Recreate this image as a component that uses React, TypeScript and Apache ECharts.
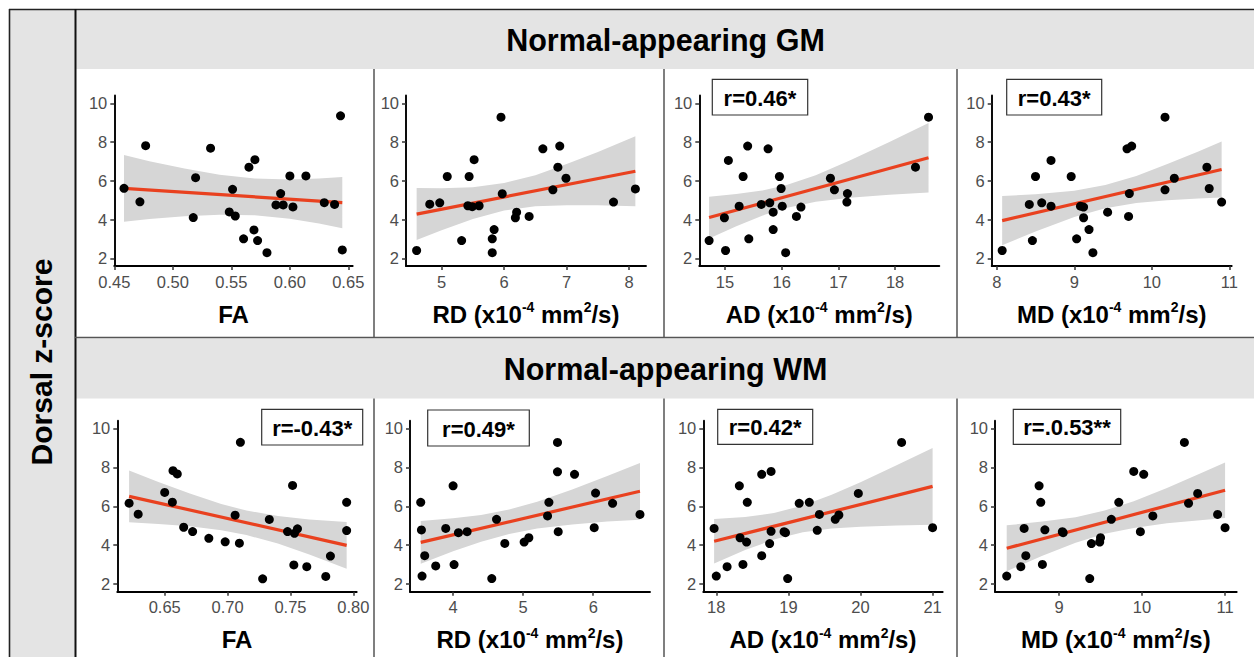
import React, { useEffect, useRef } from "react";
import * as echarts from "echarts";

const FONT = "'Liberation Sans', Arial, Helvetica, sans-serif";

const yTicks = [2, 4, 6, 8, 10];
const yMin = 1.6;
const yMax = 10.4;

const headerTitles = ["Normal-appearing GM", "Normal-appearing WM"];
const yAxisTitle = "Dorsal z-score";

// ---------- GM FA ----------
const gmFaX = [0.4583, 0.4719, 0.4768, 0.5175, 0.5195, 0.5323, 0.5483, 0.5511, 0.5534, 0.5605, 0.5651, 0.5702, 0.5694, 0.5725, 0.5805, 0.5882, 0.5922, 0.5944, 0.6001, 0.6027, 0.6138, 0.6295, 0.6383, 0.6434, 0.6449];
const gmFaY = [5.61, 4.91, 7.81, 4.10, 6.16, 7.68, 4.39, 5.56, 4.18, 3.00, 6.70, 7.09, 3.46, 2.91, 2.29, 4.75, 5.34, 4.75, 6.25, 4.65, 6.25, 4.87, 4.78, 9.35, 2.43];
const gmFaLineX = [0.4583, 0.6449];
const gmFaLineY = [5.61, 4.87];
const gmFaBandX = [0.4583, 0.48, 0.51, 0.54, 0.57, 0.60, 0.625, 0.6449];
const gmFaBandHi = [7.33, 7.01, 6.63, 6.31, 6.12, 6.06, 6.11, 6.19];
const gmFaBandLo = [3.89, 4.03, 4.17, 4.25, 4.22, 4.04, 3.79, 3.55];
const gmFaTicks = [0.45, 0.5, 0.55, 0.6, 0.65];

// ---------- GM RD ----------
const gmRdX = [4.60, 4.81, 4.97, 5.09, 5.32, 5.44, 5.42, 5.49, 5.52, 5.60, 5.81, 5.84, 5.81, 5.95, 5.97, 6.18, 6.20, 6.40, 6.62, 6.78, 6.86, 6.89, 6.99, 7.75, 8.10];
const gmRdY = [2.40, 4.79, 4.86, 6.22, 2.91, 6.22, 4.71, 4.66, 7.09, 4.71, 3.00, 3.48, 2.29, 9.28, 5.33, 4.09, 4.38, 4.16, 7.65, 5.53, 6.70, 7.79, 6.13, 4.90, 5.58];
const gmRdLineX = [4.60, 8.10];
const gmRdLineY = [4.28, 6.49];
const gmRdBandX = [4.60, 5.0, 5.5, 6.0, 6.5, 7.0, 7.5, 8.10];
const gmRdBandHi = [5.62, 5.61, 5.67, 5.88, 6.28, 6.86, 7.49, 8.30];
const gmRdBandLo = [2.94, 3.45, 4.03, 4.46, 4.68, 4.74, 4.73, 4.68];
const gmRdTicks = [5, 6, 7, 8];

// ---------- GM AD ----------
const gmAdX = [14.72, 14.99, 15.01, 15.06, 15.25, 15.32, 15.40, 15.42, 15.64, 15.76, 15.79, 15.85, 15.85, 15.96, 15.99, 16.01, 16.07, 16.26, 16.34, 16.86, 16.93, 17.16, 17.15, 18.36, 18.59];
const gmAdY = [2.91, 4.09, 2.40, 7.05, 4.69, 6.22, 7.79, 3.00, 4.78, 7.65, 4.86, 4.38, 3.48, 6.22, 5.60, 4.69, 2.29, 4.16, 4.64, 6.13, 5.53, 5.34, 4.90, 6.70, 9.28];
const gmAdLineX = [14.72, 18.59];
const gmAdLineY = [4.10, 7.19];
const gmAdBandX = [14.72, 15.2, 15.7, 16.1, 16.6, 17.2, 17.9, 18.59];
const gmAdBandHi = [5.18, 5.31, 5.52, 5.79, 6.29, 7.04, 8.00, 8.98];
const gmAdBandLo = [3.02, 3.65, 4.24, 4.61, 4.91, 5.12, 5.28, 5.40];
const gmAdTicks = [15, 16, 17, 18];

// ---------- GM MD ----------
const gmMdX = [8.07, 8.42, 8.46, 8.50, 8.58, 8.70, 8.70, 8.96, 9.03, 9.08, 9.12, 9.12, 9.19, 9.24, 9.43, 9.68, 9.74, 9.71, 9.70, 10.17, 10.17, 10.29, 10.71, 10.74, 10.90];
const gmMdY = [2.40, 4.78, 2.91, 6.22, 4.86, 7.05, 4.69, 6.22, 3.00, 4.69, 4.64, 4.09, 3.48, 2.29, 4.38, 7.65, 7.79, 5.34, 4.16, 9.28, 5.53, 6.13, 6.70, 5.60, 4.90];
const gmMdLineX = [8.07, 10.90];
const gmMdLineY = [3.94, 6.58];
const gmMdBandX = [8.07, 8.5, 9.0, 9.4, 9.8, 10.2, 10.6, 10.90];
const gmMdBandHi = [5.21, 5.30, 5.49, 5.78, 6.25, 6.86, 7.51, 8.02];
const gmMdBandLo = [2.67, 3.38, 4.13, 4.58, 4.85, 5.00, 5.09, 5.14];
const gmMdTicks = [8, 9, 10, 11];

// ---------- WM FA ----------
const wmFaX = [0.6217, 0.6289, 0.65, 0.6561, 0.6566, 0.660, 0.6651, 0.6722, 0.6851, 0.6981, 0.7060, 0.7094, 0.7102, 0.7279, 0.7332, 0.7477, 0.7517, 0.7532, 0.7556, 0.7527, 0.7630, 0.7781, 0.7818, 0.7947, 0.7947];
const wmFaY = [6.16, 5.59, 6.71, 6.21, 7.83, 7.66, 4.92, 4.70, 4.35, 4.17, 5.54, 4.10, 9.29, 2.27, 5.32, 4.70, 7.07, 4.61, 4.84, 2.98, 2.89, 2.39, 3.44, 6.20, 4.75];
const wmFaLineX = [0.6217, 0.7947];
const wmFaLineY = [6.51, 3.99];
const wmFaBandX = [0.6217, 0.645, 0.67, 0.695, 0.715, 0.74, 0.765, 0.7947];
const wmFaBandHi = [7.84, 7.25, 6.65, 6.11, 5.78, 5.50, 5.32, 5.19];
const wmFaBandLo = [5.18, 5.09, 4.97, 4.77, 4.52, 4.08, 3.52, 2.79];
const wmFaTicks = [0.65, 0.7, 0.75, 0.8];

// ---------- WM RD ----------
const wmRdX = [3.538, 3.548, 3.595, 3.557, 3.752, 3.895, 4.0, 4.014, 4.076, 4.20, 4.62, 4.552, 4.738, 5.014, 5.081, 5.348, 5.367, 5.49, 5.49, 5.50, 5.733, 6.033, 6.014, 6.276, 6.667];
const wmRdY = [6.20, 4.78, 3.46, 2.41, 2.93, 4.86, 7.05, 3.00, 4.64, 4.69, 5.33, 2.28, 4.09, 4.16, 4.38, 5.50, 6.20, 9.28, 7.77, 4.69, 7.64, 6.68, 4.90, 6.15, 5.58];
const wmRdLineX = [3.538, 6.667];
const wmRdLineY = [4.14, 6.77];
const wmRdBandX = [3.538, 4.0, 4.4, 4.8, 5.2, 5.7, 6.2, 6.667];
const wmRdBandHi = [5.24, 5.38, 5.55, 5.83, 6.23, 6.86, 7.55, 8.23];
const wmRdBandLo = [3.04, 3.68, 4.17, 4.57, 4.85, 5.06, 5.21, 5.31];
const wmRdTicks = [4, 5, 6];

// ---------- WM AD ----------
const wmAdX = [17.97, 18.0, 18.15, 18.32, 18.33, 18.37, 18.43, 18.42, 18.63, 18.63, 18.76, 18.76, 18.74, 18.94, 18.96, 18.99, 19.15, 19.29, 19.43, 19.40, 19.65, 19.70, 19.97, 20.57, 21.0];
const wmAdY = [4.86, 2.41, 2.89, 7.05, 4.38, 3.01, 6.20, 4.16, 7.64, 3.46, 7.79, 4.71, 4.08, 4.69, 4.64, 2.28, 6.15, 6.20, 5.58, 4.76, 5.33, 5.55, 6.66, 9.28, 4.90];
const wmAdLineX = [17.97, 21.0];
const wmAdLineY = [4.20, 7.02];
const wmAdBandX = [17.97, 18.4, 18.8, 19.2, 19.6, 20.0, 20.5, 21.0];
const wmAdBandHi = [5.34, 5.45, 5.65, 6.04, 6.59, 7.24, 8.11, 8.99];
const wmAdBandLo = [3.06, 3.75, 4.29, 4.66, 4.85, 4.94, 5.01, 5.05];
const wmAdTicks = [18, 19, 20, 21];

// ---------- WM MD ----------
const wmMdX = [8.37, 8.54, 8.58, 8.60, 8.76, 8.78, 8.80, 8.83, 9.04, 9.05, 9.37, 9.39, 9.49, 9.50, 9.63, 9.72, 9.90, 9.98, 10.02, 10.13, 10.51, 10.56, 10.67, 10.91, 11.0];
const wmMdY = [2.41, 2.89, 4.86, 3.46, 7.05, 6.20, 3.01, 4.79, 4.69, 4.64, 2.28, 4.08, 4.16, 4.38, 5.33, 6.20, 7.79, 4.69, 7.64, 5.50, 9.28, 6.15, 6.66, 5.58, 4.90];
const wmMdLineX = [8.37, 11.0];
const wmMdLineY = [3.84, 6.82];
const wmMdBandX = [8.37, 8.8, 9.2, 9.55, 9.9, 10.3, 10.7, 11.0];
const wmMdBandHi = [5.02, 5.21, 5.44, 5.78, 6.26, 6.94, 7.68, 8.25];
const wmMdBandLo = [2.66, 3.45, 4.12, 4.58, 4.88, 5.12, 5.28, 5.39];
const wmMdTicks = [9, 10, 11];

const xTitles = ["FA", "RD", "AD", "MD", "FA", "RD", "AD", "MD"];
const rLabels = ["", "", "r=0.46*", "r=0.43*", "r=-0.43*", "r=0.49*", "r=0.42*", "r=.0.53**"];
const xMins = [0.45, 4.43, 14.547, 7.935, 0.6123, 3.385, 17.82, 8.229];
const xMaxs = [0.6538, 8.27, 18.78, 11.03, 0.8027, 6.81, 21.14, 11.14];

const panelsData = [
  { x: gmFaX, y: gmFaY, lx: gmFaLineX, ly: gmFaLineY, bx: gmFaBandX, bh: gmFaBandHi, bl: gmFaBandLo, ticks: gmFaTicks, dec: 2 },
  { x: gmRdX, y: gmRdY, lx: gmRdLineX, ly: gmRdLineY, bx: gmRdBandX, bh: gmRdBandHi, bl: gmRdBandLo, ticks: gmRdTicks, dec: 0 },
  { x: gmAdX, y: gmAdY, lx: gmAdLineX, ly: gmAdLineY, bx: gmAdBandX, bh: gmAdBandHi, bl: gmAdBandLo, ticks: gmAdTicks, dec: 0 },
  { x: gmMdX, y: gmMdY, lx: gmMdLineX, ly: gmMdLineY, bx: gmMdBandX, bh: gmMdBandHi, bl: gmMdBandLo, ticks: gmMdTicks, dec: 0 },
  { x: wmFaX, y: wmFaY, lx: wmFaLineX, ly: wmFaLineY, bx: wmFaBandX, bh: wmFaBandHi, bl: wmFaBandLo, ticks: wmFaTicks, dec: 2 },
  { x: wmRdX, y: wmRdY, lx: wmRdLineX, ly: wmRdLineY, bx: wmRdBandX, bh: wmRdBandHi, bl: wmRdBandLo, ticks: wmRdTicks, dec: 0 },
  { x: wmAdX, y: wmAdY, lx: wmAdLineX, ly: wmAdLineY, bx: wmAdBandX, bh: wmAdBandHi, bl: wmAdBandLo, ticks: wmAdTicks, dec: 0 },
  { x: wmMdX, y: wmMdY, lx: wmMdLineX, ly: wmMdLineY, bx: wmMdBandX, bh: wmMdBandHi, bl: wmMdBandLo, ticks: wmMdTicks, dec: 0 },
];

// ---------- layout (pixels) ----------
const W = 1254;
const H = 657;
const gridLefts = [114.3, 406, 699.3, 991.7, 117.3, 410, 703.3, 995];
const gridRights = [352.7, 646, 939.3, 1231.7, 356.7, 650, 942.7, 1236.7];
const rowTops = [95.5, 420.7];
const rowBottoms = [266, 591.8];
const rBoxes = [
  null,
  null,
  [712.3, 79.3, 95.4, 35.7],
  [1006.7, 79.3, 95, 35.7],
  [261.7, 409.3, 101, 35.7],
  [427.7, 410, 101.6, 36],
  [717.7, 409.3, 95, 35],
  [1013.3, 409.3, 107.4, 35],
];

const RED = "#e9411f";
const BAND = "#d6d6d6";
const STRIP = "#e4e4e4";
const SEP = "#555555";

function xName(title: string) {
  if (title === "FA") return "{t|FA}";
  return "{t|" + title + " (x10}{s|-4}{t| mm}{s|2}{t|/s)}";
}

export default function App() {
  const ref = useRef<HTMLDivElement>(null);

  useEffect(() => {
    document.body.style.margin = "0";
    if (!ref.current) return;
    const chart = echarts.init(ref.current, undefined, { renderer: "svg" });

    const grids: any[] = [];
    const xAxes: any[] = [];
    const yAxes: any[] = [];
    const series: any[] = [];

    panelsData.forEach((p, i) => {
      const row = i < 4 ? 0 : 1;
      grids.push({
        left: gridLefts[i],
        top: rowTops[row],
        width: gridRights[i] - gridLefts[i],
        height: rowBottoms[row] - rowTops[row],
        containLabel: false,
        outerBoundsMode: "none",
      });
      xAxes.push({
        type: "value",
        gridIndex: i,
        min: xMins[i],
        max: xMaxs[i],
        splitLine: { show: false },
        axisLine: { show: true, onZero: false, lineStyle: { color: "#000", width: 1.9 } },
        axisTick: { show: true, length: 4, customValues: p.ticks, lineStyle: { color: "#333", width: 1.5 } },
        axisLabel: {
          customValues: p.ticks,
          color: "#4d4d4d",
          fontSize: 16.5,
          fontFamily: FONT,
          margin: 7,
          formatter: (v: number) => v.toFixed(p.dec),
        },
        name: xName(xTitles[i]),
        nameLocation: "middle",
        nameGap: 34,
        nameTextStyle: {
          rich: {
            t: { fontSize: 24, fontWeight: "bold", color: "#000", fontFamily: FONT, lineHeight: 28 },
            s: { fontSize: 14, fontWeight: "bold", color: "#000", fontFamily: FONT, verticalAlign: "top", lineHeight: 14 },
          },
        },
      });
      yAxes.push({
        type: "value",
        gridIndex: i,
        min: yMin,
        max: yMax,
        splitLine: { show: false },
        axisLine: { show: true, onZero: false, lineStyle: { color: "#000", width: 1.9 } },
        axisTick: { show: true, length: 4, customValues: yTicks, lineStyle: { color: "#333", width: 1.5 } },
        axisLabel: {
          customValues: yTicks,
          color: "#4d4d4d",
          fontSize: 16.5,
          fontFamily: FONT,
          margin: 7,
        },
      });

      const bandData = p.bx.map((x, j) => [x, p.bl[j], p.bh[j]]);
      series.push({
        type: "custom",
        xAxisIndex: i,
        yAxisIndex: i,
        silent: true,
        z: 1,
        data: bandData,
        encode: { x: 0, y: [1, 2] },
        renderItem: (params: any, api: any) => {
          if (params.dataIndex !== 0) return null;
          const upper = p.bx.map((x, j) => api.coord([x, p.bh[j]]));
          const lower = p.bx.map((x, j) => api.coord([x, p.bl[j]])).reverse();
          return {
            type: "polygon",
            shape: { points: upper.concat(lower) },
            style: { fill: BAND, stroke: "none" },
          };
        },
      });
      series.push({
        type: "line",
        xAxisIndex: i,
        yAxisIndex: i,
        z: 2,
        silent: true,
        symbol: "none",
        data: p.lx.map((x, j) => [x, p.ly[j]]),
        lineStyle: { color: RED, width: 3.2 },
      });
      series.push({
        type: "scatter",
        xAxisIndex: i,
        yAxisIndex: i,
        z: 3,
        symbolSize: 9,
        itemStyle: { color: "#000", opacity: 1 },
        data: p.x.map((x, j) => [x, p.y[j]]),
      });
    });

    const graphic: any[] = [];
    // left strip
    graphic.push({ type: "rect", shape: { x: 9, y: 9, width: 66, height: H }, style: { fill: STRIP }, z: 0 });
    // header bands
    graphic.push({ type: "rect", shape: { x: 76, y: 10.5, width: W - 76, height: 58.5 }, style: { fill: STRIP }, z: 0 });
    graphic.push({ type: "rect", shape: { x: 76, y: 338.5, width: W - 76, height: 60 }, style: { fill: STRIP }, z: 0 });
    // frame lines
    graphic.push({ type: "line", shape: { x1: 9, y1: 9.5, x2: W, y2: 9.5 }, style: { stroke: "#222", lineWidth: 1.6 }, z: 5 });
    graphic.push({ type: "line", shape: { x1: 9.5, y1: 9, x2: 9.5, y2: H }, style: { stroke: "#222", lineWidth: 1.6 }, z: 5 });
    graphic.push({ type: "line", shape: { x1: 75.5, y1: 9, x2: 75.5, y2: H }, style: { stroke: "#111", lineWidth: 2 }, z: 5 });
    graphic.push({ type: "line", shape: { x1: 75, y1: 337.5, x2: W, y2: 337.5 }, style: { stroke: SEP, lineWidth: 1.5 }, z: 5 });
    [374, 664, 957].forEach((x) => {
      graphic.push({ type: "line", shape: { x1: x, y1: 69, x2: x, y2: 337.5 }, style: { stroke: SEP, lineWidth: 1.5 }, z: 5 });
      graphic.push({ type: "line", shape: { x1: x, y1: 398.5, x2: x, y2: H }, style: { stroke: SEP, lineWidth: 1.5 }, z: 5 });
    });
    // header titles
    graphic.push({
      type: "text", x: 665.5, y: 40, z: 6,
      style: { text: headerTitles[0], fill: "#000", font: "bold 30.5px " + FONT, align: "center", verticalAlign: "middle" },
    });
    graphic.push({
      type: "text", x: 665.5, y: 368.5, z: 6,
      style: { text: headerTitles[1], fill: "#000", font: "bold 30.5px " + FONT, align: "center", verticalAlign: "middle" },
    });
    // y axis title
    graphic.push({
      type: "text", x: 41, y: 362, rotation: Math.PI / 2, z: 6,
      style: { text: yAxisTitle, fill: "#000", font: "bold 30px " + FONT, align: "center", verticalAlign: "middle" },
    });
    // r boxes
    rBoxes.forEach((b, i) => {
      if (!b) return;
      graphic.push({
        type: "rect", z: 10,
        shape: { x: b[0], y: b[1], width: b[2], height: b[3] },
        style: { fill: "#fff", stroke: "#333", lineWidth: 1.2 },
      });
      graphic.push({
        type: "text", z: 11,
        x: b[0] + b[2] / 2, y: b[1] + b[3] / 2 + 1,
        style: { text: rLabels[i], fill: "#000", font: "bold 22px " + FONT, align: "center", verticalAlign: "middle" },
      });
    });

    chart.setOption({
      animation: false,
      backgroundColor: "#fff",
      grid: grids,
      xAxis: xAxes,
      yAxis: yAxes,
      series,
      graphic,
    });

    return () => chart.dispose();
  }, []);

  return <div ref={ref} style={{ width: W, height: H }} />;
}
